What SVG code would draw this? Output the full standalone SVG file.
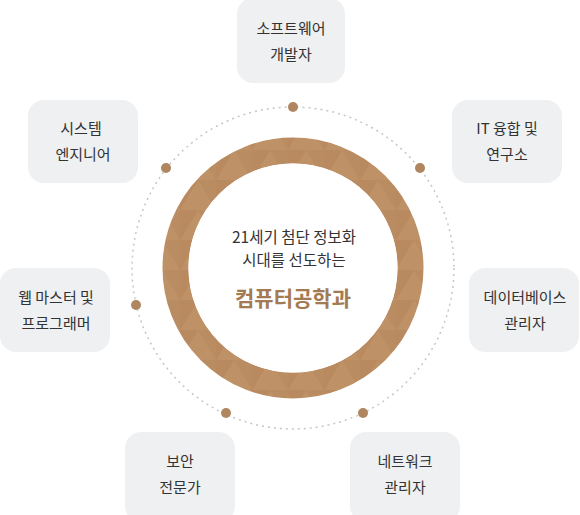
<svg xmlns="http://www.w3.org/2000/svg" width="580" height="515" viewBox="0 0 580 515">
<defs>
<style>
.box{fill:#eff0f2;}
.bt{font-family:"Noto Sans CJK KR","Noto Sans",sans-serif;font-size:15px;fill:#333;text-anchor:middle;}
.ct{font-family:"Noto Sans CJK KR","Noto Sans",sans-serif;font-size:15.5px;fill:#333;text-anchor:middle;}
.title{font-family:"Noto Sans CJK KR","Noto Sans",sans-serif;font-size:21px;font-weight:bold;fill:#a37a52;text-anchor:middle;}
.dot{fill:#b08660;}
</style>
<pattern id="tri" x="0" y="0" width="36" height="30" patternUnits="userSpaceOnUse">
<rect width="36" height="30" fill="#bb8d62"/>
<polygon points="0,30 18,0 36,30" fill="#be9166"/>
<polygon points="0,0 18,0 0,30" fill="#b98a5f"/>
<polygon points="18,0 36,0 36,30" fill="#ba8c61"/>
</pattern>
</defs>
<g id="orbit">
<circle cx="293" cy="268" r="161" fill="none" stroke="#c6c6c6" stroke-width="1.5" stroke-dasharray="2 4"/>
</g>
<g id="ring">
<circle cx="293" cy="268" r="117.5" fill="none" stroke="url(#tri)" stroke-width="26"/>
<circle cx="293" cy="268" r="104.5" fill="#fff"/>
</g>
<g id="center-text">
<text class="ct" x="294" y="243">21세기 첨단 정보화</text>
<text class="ct" x="294" y="266">시대를 선도하는</text>
<text class="title" x="293" y="306">컴퓨터공학과</text>
</g>
<g id="connectors">
<circle class="dot" cx="293" cy="107" r="5"/>
<circle class="dot" cx="166" cy="168" r="5"/>
<circle class="dot" cx="420" cy="168" r="5"/>
<circle class="dot" cx="136" cy="305" r="5"/>
<circle class="dot" cx="226" cy="413" r="5"/>
<circle class="dot" cx="363" cy="413" r="5"/>
</g>
<g id="node-software">
<rect class="box" x="237" y="-2" width="108" height="85" rx="16"/>
<text class="bt" x="291" y="34">소프트웨어</text>
<text class="bt" x="291" y="60">개발자</text>
</g>
<g id="node-system">
<rect class="box" x="28" y="100" width="110" height="83" rx="16"/>
<text class="bt" x="81" y="134">시스템</text>
<text class="bt" x="83" y="160">엔지니어</text>
</g>
<g id="node-it">
<rect class="box" x="452" y="100" width="110" height="83" rx="16"/>
<text class="bt" x="507" y="134">IT 융합 및</text>
<text class="bt" x="507" y="160">연구소</text>
</g>
<g id="node-web">
<rect class="box" x="0" y="268" width="110" height="84" rx="16"/>
<text class="bt" x="56" y="303">웹 마스터 및</text>
<text class="bt" x="56" y="329">프로그래머</text>
</g>
<g id="node-db">
<rect class="box" x="469" y="268" width="110" height="84" rx="16"/>
<text class="bt" x="525" y="303">데이터베이스</text>
<text class="bt" x="525" y="329">관리자</text>
</g>
<g id="node-security">
<rect class="box" x="125" y="432" width="110" height="90" rx="16"/>
<text class="bt" x="180" y="467">보안</text>
<text class="bt" x="180" y="493">전문가</text>
</g>
<g id="node-network">
<rect class="box" x="350" y="432" width="110" height="90" rx="16"/>
<text class="bt" x="405" y="467">네트워크</text>
<text class="bt" x="405" y="493">관리자</text>
</g>
</svg>
